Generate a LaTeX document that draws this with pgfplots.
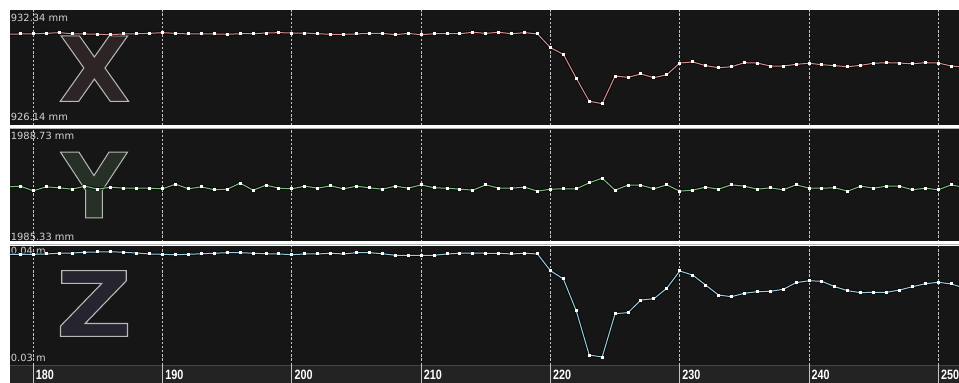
\documentclass[border=0pt]{standalone}
\usepackage{graphicx}
\usepackage{pgfplots}
\usepackage{pgfplotstable}
\pgfplotsset{compat=1.18}
\usepackage{fontspec}
\setmainfont{DejaVu Sans}
\newfontfamily\ticklabelfont[FakeStretch=0.8]{Liberation Sans Bold}
\newfontfamily\letterfont{DejaVu Sans Bold}

\definecolor{panelbg}{HTML}{161616}
\definecolor{gridc}{HTML}{C4C4C4}
\definecolor{labelc}{HTML}{D2D2D2}
\definecolor{xline}{HTML}{D88C8C}
\definecolor{yline}{HTML}{7CBF7C}
\definecolor{zline}{HTML}{98CDE0}
\definecolor{xfill}{HTML}{2D2525}
\definecolor{yfill}{HTML}{263027}
\definecolor{zfill}{HTML}{25242F}
\definecolor{stripbg}{HTML}{232323}
\definecolor{stripedge}{HTML}{454545}

% position (frame number) against X, Y, Z
\pgfplotstableread{
t v
178 931.03
179 931.05
180 931.06
181 931.08
182 931.12
183 931.06
184 931.05
185 931.03
186 931.01
187 931.05
188 931.06
189 931.08
190 931.12
191 931.08
192 931.05
193 931.06
194 931.05
195 931.03
196 931.06
197 931.06
198 931.10
199 931.12
200 931.10
201 931.10
202 931.06
203 931.03
204 931.03
205 931.05
206 931.08
207 931.08
208 931.01
209 931.08
210 931.01
211 931.06
212 931.06
213 931.06
214 931.14
215 931.08
216 931.14
217 931.06
218 931.12
219 931.05
220 930.31
221 929.95
222 928.66
223 927.42
224 927.29
225 928.78
226 928.71
227 928.89
228 928.69
229 928.85
230 929.48
231 929.54
232 929.34
233 929.23
234 929.28
235 929.50
236 929.48
237 929.32
238 929.32
239 929.41
240 929.47
241 929.39
242 929.34
243 929.28
244 929.36
245 929.47
246 929.50
247 929.48
248 929.44
249 929.50
250 929.48
251 929.32
252 929.27
}\xdata

\pgfplotstableread{
t v
178 1986.99
179 1987.01
180 1986.87
181 1986.99
182 1986.96
183 1986.92
184 1987.01
185 1986.92
186 1986.98
187 1986.95
188 1986.95
189 1986.95
190 1986.93
191 1987.07
192 1986.93
193 1986.99
194 1986.90
195 1986.92
196 1987.10
197 1986.89
198 1987.04
199 1986.95
200 1986.93
201 1987.01
202 1986.95
203 1987.02
204 1986.93
205 1987.01
206 1986.96
207 1986.92
208 1987.01
209 1986.95
210 1987.05
211 1986.96
212 1986.95
213 1986.92
214 1986.89
215 1987.05
216 1986.95
217 1986.95
218 1986.98
219 1986.86
220 1986.92
221 1986.93
222 1986.93
223 1987.11
224 1987.25
225 1986.89
226 1987.04
227 1987.04
228 1986.93
229 1987.05
230 1986.86
231 1986.89
232 1986.98
233 1986.92
234 1987.05
235 1987.01
236 1986.92
237 1986.96
238 1986.90
239 1987.05
240 1986.95
241 1986.95
242 1986.96
243 1986.86
244 1987.01
245 1986.95
246 1987.01
247 1987.01
248 1986.90
249 1986.95
250 1986.90
251 1987.05
252 1986.97
}\ydata

\pgfplotstableread{
t v
178 0.03930
179 0.03930
180 0.03930
181 0.03933
182 0.03939
183 0.03941
184 0.03947
185 0.03950
186 0.03952
187 0.03947
188 0.03941
189 0.03933
190 0.03930
191 0.03927
192 0.03930
193 0.03935
194 0.03939
195 0.03944
196 0.03944
197 0.03939
198 0.03935
199 0.03933
200 0.03927
201 0.03933
202 0.03933
203 0.03939
204 0.03933
205 0.03944
206 0.03944
207 0.03935
208 0.03922
209 0.03922
210 0.03922
211 0.03922
212 0.03933
213 0.03939
214 0.03941
215 0.03939
216 0.03939
217 0.03933
218 0.03939
219 0.03933
220 0.03792
221 0.03723
222 0.03454
223 0.03084
224 0.03067
225 0.03431
226 0.03440
227 0.03546
228 0.03557
229 0.03645
230 0.03790
231 0.03756
232 0.03672
233 0.03588
234 0.03574
235 0.03603
236 0.03616
237 0.03619
238 0.03636
239 0.03692
240 0.03708
241 0.03703
242 0.03658
243 0.03624
244 0.03608
245 0.03611
246 0.03611
247 0.03630
248 0.03658
249 0.03683
250 0.03695
251 0.03681
252 0.03647
}\zdata

% outlined big channel letter, #1 = horizontal stretch
\newcommand{\bigletter}[2]{%
  \scalebox{#1}[1]{%
  \special{pdf:literal direct q 2 Tr 1 w 0.72 0.72 0.72 RG}%
  \letterfont\fontsize{90}{90}\selectfont #2%
  \special{pdf:literal direct Q}}}

\tikzset{
  lbl/.style={text=labelc, inner sep=0pt, font=\fontsize{9.9}{10}\selectfont},
}
\pgfplotsset{
  panel/.style={
    scale only axis, width=949pt, xmin=178.2, xmax=251.6,
    anchor=south west,
    axis background/.style={fill=panelbg},
    axis line style={draw=none},
    xtick={180,190,...,250}, ytick=\empty, xticklabels={},
    major tick length=0pt,
    xmajorgrids,
    major grid style={draw=gridc, line width=1pt, dash pattern=on 2.4pt off 1.8pt},
  },
  halo/.style={draw=black, line width=3.2pt, opacity=0.6, no marks},
  trace/.style={line width=1pt, mark=square*, mark size=1pt,
    mark options={draw=white, fill=white, line width=0pt}},
}

\begin{document}
\begin{tikzpicture}
\fill[white] (0pt,0pt) rectangle (959pt,383pt);

% X channel
\begin{axis}[panel, at={(10pt,258pt)}, height=115pt, ymin=926.14, ymax=932.34]
\node[text=xfill, inner sep=0pt] at (rel axis cs:0.089,0.49) {\bigletter{1.04}{X}};
\node[lbl, anchor=north west, xshift=0.7pt, yshift=-4pt] at (rel axis cs:0,1) {932.34 mm};
\node[lbl, anchor=south west, xshift=0.7pt, yshift=4pt] at (rel axis cs:0,0) {926.14 mm};
\addplot[halo] table {\xdata};
\addplot[trace, draw=xline] table {\xdata};
\end{axis}

% Y channel
\begin{axis}[panel, at={(10pt,141pt)}, height=113pt, ymin=1985.33, ymax=1988.73]
\node[text=yfill, inner sep=0pt] at (rel axis cs:0.0885,0.504) {\bigletter{1.0}{Y}};
\node[lbl, anchor=north west, xshift=0.7pt, yshift=-2.7pt] at (rel axis cs:0,1) {1988.73 mm};
\node[lbl, anchor=south west, xshift=0.7pt, yshift=1.3pt] at (rel axis cs:0,0) {1985.33 mm};
\addplot[halo] table {\ydata};
\addplot[trace, draw=yline] table {\ydata};
\end{axis}

% Z channel
\begin{axis}[panel, at={(10pt,18pt)}, height=119pt, ymin=0.03, ymax=0.04]
\node[text=zfill, inner sep=0pt] at (rel axis cs:0.0885,0.517) {\bigletter{1.17}{Z}};
\node[lbl, anchor=north west, xshift=0.7pt, yshift=-1.3pt] at (rel axis cs:0,1) {0.04 m};
\node[lbl, anchor=south west, xshift=0.7pt, yshift=3.3pt] at (rel axis cs:0,0) {0.03 m};
\addplot[halo] table {\zdata};
\addplot[trace, draw=zline] table {\zdata};
\end{axis}

% frame axis strip
\begin{axis}[scale only axis, width=949pt, height=18pt, at={(10pt,0pt)}, anchor=south west,
  xmin=178.2, xmax=251.6, ymin=0, ymax=1, hide axis, clip=false]
\fill[stripbg] (rel axis cs:0,0) rectangle (rel axis cs:1,1);
\draw[stripedge, line width=1.5pt] (rel axis cs:0,0.96) -- (rel axis cs:1,0.96);
\pgfplotsinvokeforeach{180,190,...,250}{
  \draw[gridc, line width=1pt] (axis cs:#1,0) -- (axis cs:#1,1);
  \node[anchor=west, text=white, inner sep=0pt, xshift=2.5pt,
    font=\ticklabelfont\fontsize{13.5}{13.5}\selectfont] at (axis cs:#1,0.47) {#1};
}
\end{axis}

% panel separators
\draw[white, line width=1.8pt] (10pt,257pt) -- (959pt,257pt);
\draw[white!70!black, line width=0.8pt] (10pt,254.8pt) -- (959pt,254.8pt);
\draw[white, line width=1.8pt] (10pt,140.6pt) -- (959pt,140.6pt);
\draw[white!70!black, line width=0.8pt] (10pt,138.4pt) -- (959pt,138.4pt);

\pgfresetboundingbox
\path (0pt,0pt) rectangle (959pt,383pt);
\end{tikzpicture}
\end{document}
